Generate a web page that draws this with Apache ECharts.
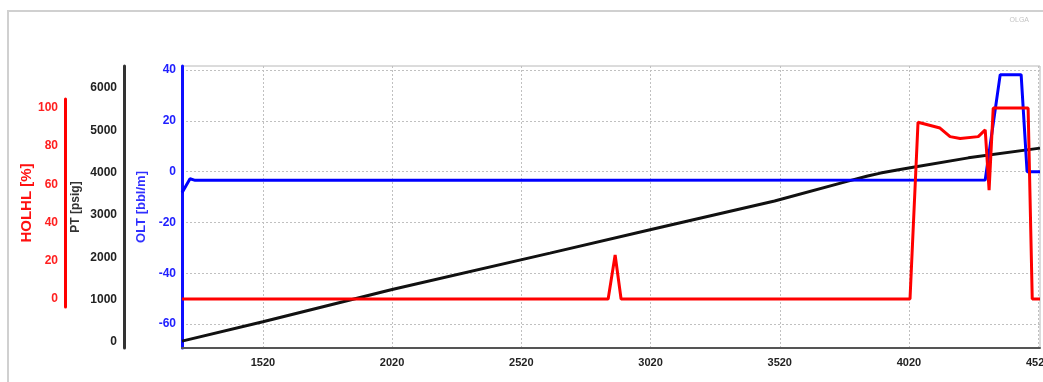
<!DOCTYPE html>
<html>
<head>
<meta charset="utf-8">
<script src="https://cdn.jsdelivr.net/npm/echarts@6/dist/echarts.min.js"></script>
<style>
  html, body { margin: 0; padding: 0; background: #fff; }
  #chart { width: 1043px; height: 382px; }
</style>
</head>
<body>
<div id="chart"></div>
<script>
// Position along the line (x) and trend values
const xTicks = [1520, 2020, 2520, 3020, 3520, 4020, 4520];
const oltTicks = [-60, -40, -20, 0, 20, 40];
const ptTicks = [0, 1000, 2000, 3000, 4000, 5000, 6000];
const holhlTicks = [0, 20, 40, 60, 80, 100];

// OLT [bbl/m]
const oltX = [1207, 1238, 1258, 2500, 4315, 4373, 4454, 4477, 4527];
const oltY = [-8.3, -2.8, -3.4, -3.4, -3.3, 38.2, 38.2, 0, 0];

// PT [psig]
const ptX = [1207, 1520, 2020, 2631, 3018, 3500, 3784, 3860, 3910, 3980, 4036, 4250, 4527];
const ptY = [20, 480, 1240, 2100, 2650, 3330, 3800, 3920, 3990, 4070, 4130, 4350, 4580];

// HOLHL [%]
const holhlX = [1207, 2856, 2883, 2906, 4024, 4055, 4140, 4179, 4218, 4288, 4315, 4330, 4346, 4481, 4497, 4527];
const holhlY = [0, 0, 23, 0, 0, 92.5, 89.5, 85, 84, 85, 88.5, 57, 100, 100, 0, 0];

const zip = (xs, ys) => xs.map((x, i) => [x, ys[i]]);
const plain = v => String(v);

const xMin = 1207, xMax = 4527;
const labelFont = 'Liberation Sans';

const chart = echarts.init(document.getElementById('chart'), null, { renderer: 'canvas' });

chart.setOption({
  animation: false,
  backgroundColor: '#fff',
  graphic: [
    {
      type: 'rect',
      shape: { x: 8, y: 11, width: 1100, height: 420 },
      style: { fill: 'none', stroke: '#d0d0d0', lineWidth: 2 },
      silent: true
    },
    {
      type: 'text',
      right: 14, top: 17,
      style: { text: 'OLGA', fill: '#c4c4c4', font: '7px "Liberation Sans"' },
      silent: true
    }
  ],
  grid: [
    { left: 182, right: 3, top: 66, bottom: 34, show: true, borderColor: '#b8b8b8', borderWidth: 1,
      containLabel: false, outerBoundsMode: 'none' },
    { left: 182, right: 3, top: 99, bottom: 75, show: false,
      containLabel: false, outerBoundsMode: 'none' }
  ],
  xAxis: [
    {
      type: 'value', gridIndex: 0, min: xMin, max: xMax,
      axisLine: { show: true, onZero: false, lineStyle: { color: '#555', width: 2 } },
      axisTick: { show: false, customValues: xTicks },
      axisLabel: {
        customValues: xTicks, formatter: plain, color: '#222', fontWeight: 'bold',
        fontFamily: labelFont, fontSize: 11, margin: 9, hideOverlap: false
      },
      splitLine: { show: true, lineStyle: { color: '#c0c0c0', type: [2, 2], width: 1 } }
    },
    {
      type: 'value', gridIndex: 1, min: xMin, max: xMax, show: false
    }
  ],
  yAxis: [
    {
      type: 'value', gridIndex: 0, position: 'left', min: -69.4, max: 41.6,
      name: 'OLT [bbl/m]', nameLocation: 'middle', nameGap: 34, nameRotate: 90, nameMoveOverlap: false,
      nameTextStyle: { color: '#3030ff', fontWeight: 'bold', fontFamily: labelFont, fontSize: 13 },
      axisLine: { show: true, onZero: false, lineStyle: { color: '#1010ff', width: 3 } },
      axisTick: { show: false, customValues: oltTicks },
      axisLabel: {
        customValues: oltTicks, formatter: plain, color: '#2020ff', fontWeight: 'bold',
        fontFamily: labelFont, fontSize: 12, margin: 6
      },
      splitLine: { show: true, lineStyle: { color: '#c0c0c0', type: [2, 2], width: 1 } }
    },
    {
      type: 'value', gridIndex: 0, position: 'left', offset: 58, min: -142, max: 6520,
      name: 'PT [psig]', nameLocation: 'middle', nameGap: 42, nameRotate: 90, nameMoveOverlap: false,
      nameTextStyle: { color: '#333', fontWeight: 'bold', fontFamily: labelFont, fontSize: 12 },
      axisLine: { show: true, onZero: false, lineStyle: { color: '#333', width: 3 } },
      axisTick: { show: false, customValues: ptTicks },
      axisLabel: {
        customValues: ptTicks, formatter: plain, color: '#222', fontWeight: 'bold',
        fontFamily: labelFont, fontSize: 12, margin: 7
      },
      splitLine: { show: false }
    },
    {
      type: 'value', gridIndex: 1, position: 'left', offset: 117, min: -4.2, max: 104.7,
      name: 'HOLHL [%]', nameLocation: 'middle', nameGap: 31, nameRotate: 90, nameMoveOverlap: false,
      nameTextStyle: { color: '#ff1010', fontWeight: 'bold', fontFamily: labelFont, fontSize: 15 },
      axisLine: { show: true, onZero: false, lineStyle: { color: '#ff0000', width: 3 } },
      axisTick: { show: false, customValues: holhlTicks },
      axisLabel: {
        customValues: holhlTicks, formatter: plain, color: '#ff2020', fontWeight: 'bold',
        fontFamily: labelFont, fontSize: 12, margin: 7
      },
      splitLine: { show: false }
    }
  ],
  series: [
    {
      name: 'PT', type: 'line', xAxisIndex: 0, yAxisIndex: 1,
      data: zip(ptX, ptY), showSymbol: false, z: 2,
      lineStyle: { color: '#111', width: 3 }
    },
    {
      name: 'OLT', type: 'line', xAxisIndex: 0, yAxisIndex: 0,
      data: zip(oltX, oltY), showSymbol: false, z: 3,
      lineStyle: { color: '#0000ff', width: 3 }
    },
    {
      name: 'HOLHL', type: 'line', xAxisIndex: 1, yAxisIndex: 2,
      data: zip(holhlX, holhlY), showSymbol: false, z: 4,
      lineStyle: { color: '#ff0000', width: 3 }
    }
  ]
});
</script>
</body>
</html>
